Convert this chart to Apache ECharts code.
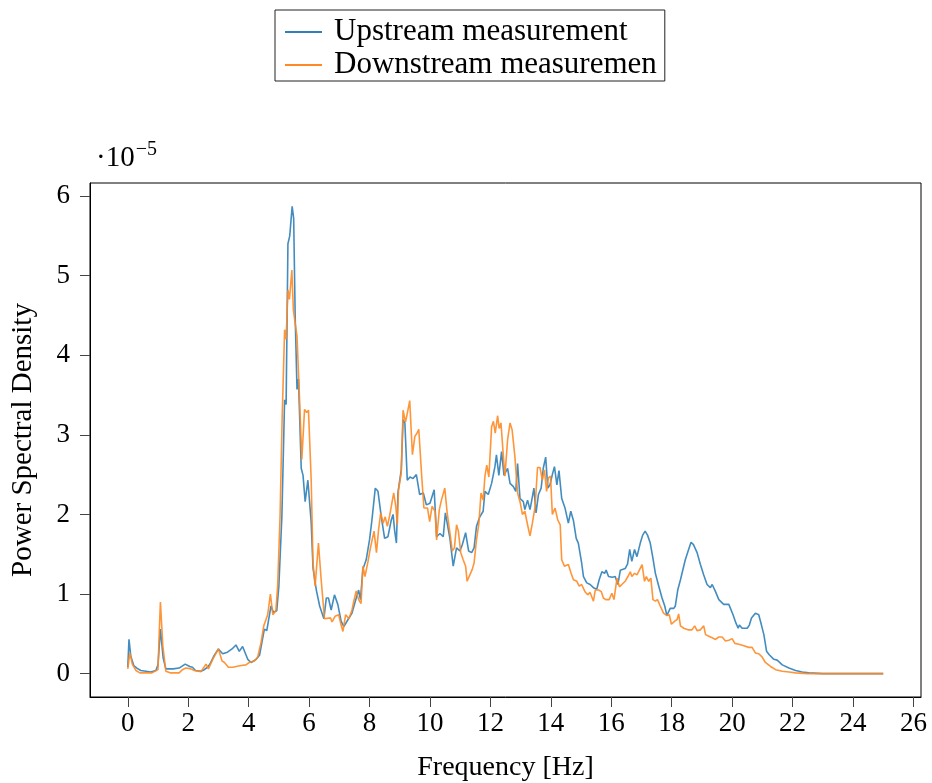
<!DOCTYPE html>
<html>
<head>
<meta charset="utf-8">
<script src="https://cdn.jsdelivr.net/npm/echarts@6/dist/echarts.min.js"></script>
<style>
  html, body { margin: 0; padding: 0; background: #fff; }
  #chart { width: 932px; height: 783px; }
</style>
</head>
<body>
<div id="chart"></div>
<script>
// Values in units of 1e-5
const upFreq = [0,0.04,0.1,0.2,0.3,0.43,0.6,0.76,0.93,1.0,1.08,1.17,1.26,1.5,1.7,1.76,1.9,2.05,2.14,2.24,2.42,2.53,2.64,2.72,2.86,3.0,3.14,3.3,3.45,3.58,3.69,3.8,3.97,4.08,4.25,4.36,4.52,4.6,4.74,4.82,4.93,5.0,5.1,5.19,5.24,5.3,5.36,5.44,5.49,5.54,5.6,5.65,5.74,5.8,5.87,5.96,6.07,6.13,6.24,6.35,6.49,6.57,6.64,6.73,6.84,6.95,7.06,7.15,7.29,7.42,7.53,7.64,7.7,7.78,7.89,8.0,8.08,8.19,8.28,8.39,8.5,8.61,8.72,8.78,8.83,8.89,8.94,9.05,9.11,9.17,9.25,9.34,9.44,9.55,9.66,9.78,9.88,10.0,10.14,10.22,10.33,10.44,10.51,10.66,10.77,10.88,10.99,11.07,11.18,11.28,11.38,11.46,11.54,11.65,11.76,11.82,11.93,12.04,12.15,12.2,12.28,12.37,12.45,12.57,12.65,12.76,12.84,12.9,12.98,13.09,13.14,13.23,13.31,13.37,13.44,13.51,13.59,13.68,13.75,13.83,13.9,13.97,14.05,14.12,14.2,14.27,14.36,14.47,14.58,14.66,14.75,14.84,14.91,15.02,15.08,15.19,15.3,15.41,15.52,15.6,15.69,15.78,15.83,15.91,16.04,16.13,16.22,16.3,16.46,16.54,16.61,16.68,16.77,16.85,16.96,17.04,17.12,17.2,17.29,17.37,17.46,17.57,17.68,17.77,17.84,17.95,18.07,18.12,18.2,18.29,18.45,18.56,18.64,18.72,18.84,18.95,19.06,19.17,19.28,19.34,19.45,19.56,19.72,19.89,19.95,20.03,20.12,20.2,20.24,20.33,20.5,20.57,20.64,20.77,20.88,20.97,21.05,21.14,21.22,21.38,21.49,21.66,21.88,22.1,22.32,22.54,23.0,24.0,25.0];
const upPsd = [0.08,0.43,0.22,0.1,0.07,0.04,0.03,0.02,0.04,0.11,0.56,0.2,0.06,0.06,0.07,0.08,0.12,0.09,0.08,0.04,0.03,0.05,0.08,0.12,0.23,0.31,0.25,0.27,0.31,0.36,0.28,0.34,0.18,0.14,0.18,0.23,0.56,0.54,0.85,0.77,0.79,1.1,1.98,3.44,3.38,5.4,5.5,5.87,5.72,4.49,3.57,3.7,2.58,2.49,2.16,2.43,1.9,1.33,1.05,0.85,0.69,0.95,0.95,0.8,0.99,0.87,0.66,0.59,0.68,0.76,0.91,1.05,0.93,1.31,1.43,1.68,1.93,2.33,2.29,1.97,1.7,1.72,1.93,2.0,1.8,1.64,2.27,2.56,3.19,3.15,2.43,2.47,2.45,2.5,2.25,2.27,2.12,2.14,2.31,1.72,1.76,1.72,2.02,1.7,1.35,1.58,1.54,1.62,1.77,1.54,1.52,1.58,1.85,1.97,2.04,2.29,2.25,2.39,2.6,2.75,2.49,2.79,2.49,2.58,2.39,2.35,2.29,2.64,2.2,2.16,2.06,2.18,2.06,2.18,2.33,2.02,2.25,2.33,2.58,2.72,2.33,2.37,2.5,2.6,2.37,2.55,2.2,2.08,1.89,2.04,1.92,1.7,1.64,1.39,1.22,1.14,1.12,1.08,1.06,1.18,1.28,1.26,1.3,1.22,1.21,1.22,1.12,1.3,1.32,1.38,1.56,1.41,1.56,1.47,1.64,1.74,1.79,1.74,1.64,1.47,1.26,1.1,0.95,0.85,0.73,0.82,0.82,0.85,1.05,1.18,1.43,1.56,1.65,1.62,1.52,1.37,1.24,1.12,1.08,1.12,1.03,0.93,0.87,0.87,0.88,0.74,0.64,0.57,0.61,0.57,0.57,0.61,0.7,0.76,0.74,0.61,0.49,0.28,0.24,0.18,0.17,0.11,0.07,0.04,0.02,0.01,0,0,0];

const downFreq = [0,0.07,0.15,0.27,0.4,0.8,1.0,1.04,1.08,1.16,1.26,1.4,1.7,1.81,1.92,2.09,2.2,2.42,2.59,2.67,2.81,3.0,3.12,3.2,3.33,3.48,3.7,3.91,4.02,4.19,4.3,4.41,4.5,4.63,4.72,4.8,4.9,4.96,5.04,5.11,5.19,5.24,5.3,5.35,5.43,5.48,5.54,5.6,5.68,5.76,5.85,5.92,5.98,6.07,6.13,6.2,6.31,6.4,6.51,6.71,6.76,6.86,6.98,7.06,7.12,7.21,7.32,7.42,7.48,7.56,7.64,7.72,7.78,7.85,7.95,8.03,8.09,8.15,8.23,8.3,8.37,8.45,8.52,8.59,8.67,8.72,8.8,8.87,8.92,8.96,9.05,9.11,9.19,9.25,9.33,9.42,9.5,9.57,9.63,9.72,9.8,9.92,9.99,10.07,10.17,10.22,10.31,10.38,10.49,10.57,10.66,10.74,10.81,10.88,10.94,11.02,11.1,11.18,11.23,11.32,11.4,11.46,11.54,11.62,11.69,11.76,11.82,11.88,11.95,12.04,12.1,12.16,12.24,12.29,12.35,12.43,12.48,12.57,12.65,12.72,12.81,12.9,12.98,13.06,13.14,13.23,13.31,13.39,13.48,13.56,13.64,13.72,13.79,13.86,13.92,13.99,14.05,14.14,14.23,14.31,14.36,14.45,14.58,14.67,14.75,14.86,14.94,15.02,15.13,15.22,15.3,15.41,15.47,15.58,15.67,15.74,15.82,15.93,16.02,16.09,16.19,16.27,16.35,16.46,16.55,16.63,16.68,16.77,16.85,16.93,17.02,17.1,17.16,17.24,17.31,17.38,17.46,17.53,17.62,17.73,17.84,17.92,17.99,18.1,18.18,18.23,18.29,18.4,18.54,18.67,18.76,18.84,18.95,19.06,19.12,19.23,19.34,19.45,19.56,19.67,19.78,19.89,20.0,20.09,20.22,20.39,20.55,20.66,20.77,20.88,20.99,21.1,21.27,21.44,21.66,21.88,22.1,22.5,23.5,25.0];
const downPsd = [0.06,0.26,0.12,0.04,0.01,0.01,0.05,0.5,0.9,0.35,0.03,0.01,0.01,0.05,0.07,0.06,0.04,0.025,0.12,0.06,0.18,0.31,0.16,0.14,0.08,0.08,0.1,0.11,0.14,0.16,0.21,0.39,0.6,0.74,1.0,0.74,0.79,1.1,1.98,3.23,4.32,4.2,4.82,4.7,5.07,4.57,4.4,4.24,3.49,2.69,3.32,3.28,3.31,2.43,1.39,1.1,1.64,1.18,0.69,0.7,0.65,0.72,0.74,0.61,0.53,0.74,0.69,0.8,0.91,1.04,0.93,0.88,1.35,1.22,1.41,1.58,1.58,1.79,1.52,1.81,2.02,1.89,1.97,1.85,1.99,1.97,2.27,2.1,1.87,2.31,2.52,3.31,3.16,3.27,3.43,2.75,2.98,3.02,3.07,2.52,2.08,2.08,1.91,2.1,2.04,1.68,2.06,2.18,2.33,2.02,1.77,1.54,1.58,1.87,1.79,1.52,1.43,1.35,1.16,1.24,1.31,1.39,1.68,1.89,2.27,2.18,2.48,2.62,2.47,3.1,3.17,3.02,3.24,3.08,3.15,2.73,2.48,2.94,3.15,3.06,2.73,2.27,2.16,2.0,2.04,1.87,1.73,1.89,2.1,2.59,2.59,2.43,2.56,2.29,2.46,2.48,2.0,2.08,1.93,1.87,1.43,1.35,1.37,1.26,1.18,1.16,1.1,1.12,1.03,0.99,1.02,0.91,1.05,1.05,1.03,0.95,0.93,0.93,1.01,0.93,1.2,1.09,1.12,1.16,1.22,1.28,1.22,1.26,1.24,1.3,1.37,1.16,1.22,1.16,1.2,0.93,0.91,0.93,0.85,0.76,0.73,0.74,0.62,0.66,0.68,0.75,0.6,0.57,0.55,0.55,0.6,0.54,0.55,0.6,0.49,0.47,0.45,0.43,0.46,0.46,0.41,0.42,0.44,0.38,0.37,0.35,0.33,0.33,0.26,0.25,0.21,0.14,0.09,0.05,0.03,0.02,0.01,0,0,0];

const xTicks = [0,2,4,6,8,10,12,14,16,18,20,22,24,26];
const yTicks = [0,1,2,3,4,5,6];
const seriesNames = ['Upstream measurement', 'Downstream measuremen'];

const FONT = '"Liberation Serif", "DejaVu Serif", serif';
const chart = echarts.init(document.getElementById('chart'), null, { renderer: 'canvas' });

const yMaxData = 5.87;
const yPad = yMaxData * 0.05;

chart.setOption({
  animation: false,
  backgroundColor: '#fff',
  grid: {
    left: 90, top: 183, width: 831, height: 514,
    containLabel: false, outerBoundsMode: 'none',
    show: true, borderColor: '#000', borderWidth: 1, backgroundColor: 'transparent'
  },
  legend: {
    orient: 'vertical',
    left: 275, top: 10,
    padding: [6, 8, 0, 10],
    itemGap: 1,
    icon: 'rect',
    itemWidth: 37, itemHeight: 2,
    borderColor: '#222', borderWidth: 1,
    textStyle: { fontFamily: FONT, fontSize: 31, color: '#000', padding: [0, 0, 0, 7], lineHeight: 32 },
    data: seriesNames
  },
  xAxis: {
    type: 'value',
    min: -1.25, max: 26.25,
    name: 'Frequency [Hz]',
    nameLocation: 'middle', nameGap: 57,
    nameTextStyle: { fontFamily: FONT, fontSize: 28, color: '#000' },
    axisLine: { show: true, onZero: false, lineStyle: { color: '#000', width: 1 } },
    axisTick: { show: true, length: 10, inside: false, customValues: xTicks, lineStyle: { color: '#444', width: 1 } },
    axisLabel: { customValues: xTicks, fontFamily: FONT, fontSize: 27, color: '#000', margin: 13 },
    splitLine: { show: false }
  },
  yAxis: {
    type: 'value',
    min: -yPad, max: yMaxData + yPad,
    name: 'Power Spectral Density',
    nameLocation: 'middle', nameGap: 52,
    nameTextStyle: { fontFamily: FONT, fontSize: 29, color: '#000' },
    axisLine: { show: true, onZero: false, lineStyle: { color: '#000', width: 1 } },
    axisTick: { show: true, length: 10, inside: false, customValues: yTicks, lineStyle: { color: '#444', width: 1 } },
    axisLabel: { customValues: yTicks, fontFamily: FONT, fontSize: 27, color: '#000', margin: 20 },
    splitLine: { show: false }
  },
  graphic: [{
    type: 'text', left: 96, top: 140,
    style: {
      text: '{a|·10}{b|−5}',
      rich: {
        a: { fontFamily: FONT, fontSize: 29, fill: '#000', verticalAlign: 'bottom' },
        b: { fontFamily: FONT, fontSize: 20, fill: '#000', padding: [0, 0, 13, 1], verticalAlign: 'bottom' }
      }
    }
  }],
  series: [
    {
      name: seriesNames[0], type: 'line', symbol: 'none', showSymbol: false,
      data: upFreq.map((f, i) => [f, upPsd[i]]),
      itemStyle: { color: '#2f7fb8' },
      lineStyle: { color: '#2f7fb8', width: 1.6, opacity: 0.9 }
    },
    {
      name: seriesNames[1], type: 'line', symbol: 'none', showSymbol: false,
      data: downFreq.map((f, i) => [f, downPsd[i]]),
      itemStyle: { color: '#ff8a24' },
      lineStyle: { color: '#ff8a24', width: 1.6, opacity: 0.9 }
    }
  ]
});
</script>
</body>
</html>
